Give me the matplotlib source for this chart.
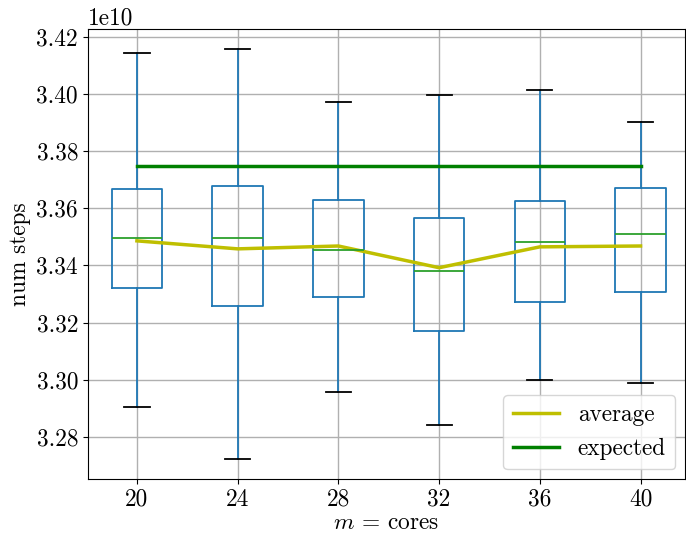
import matplotlib
matplotlib.use('Agg')
from matplotlib import pyplot as plt

# valores (unidade 1e10)
cores = [20, 24, 28, 32, 36, 40]
whis_lo = [3.2905, 3.2723, 3.2958, 3.2842, 3.2998, 3.2989]
q1 = [3.3321, 3.3258, 3.3290, 3.3171, 3.3273, 3.3307]
medians = [3.3497, 3.3497, 3.3454, 3.3381, 3.3483, 3.3510]
q3 = [3.3668, 3.3678, 3.3629, 3.3567, 3.3626, 3.3671]
whis_hi = [3.4144, 3.4158, 3.3972, 3.3997, 3.4015, 3.3903]
average = [3.3486, 3.3458, 3.3468, 3.3392, 3.3465, 3.3468]
expected = 3.3748

plt.rcParams['font.family'] = 'serif'
plt.rcParams['font.serif'] = ['cmr10']
plt.rcParams['mathtext.fontset'] = 'cm'
plt.rcParams['axes.unicode_minus'] = False
plt.rcParams['font.size'] = 16.8

fig = plt.figure(figsize=(6.86, 5.35), dpi=100)
ax = fig.add_axes([0.128, 0.105, 0.870, 0.841])

scale = 1e10
stats = []
for i in range(len(cores)):
    stats.append({'whislo': whis_lo[i] * scale, 'q1': q1[i] * scale,
                  'med': medians[i] * scale, 'q3': q3[i] * scale,
                  'whishi': whis_hi[i] * scale, 'fliers': []})

ax.bxp(stats, positions=cores, widths=2, manage_ticks=False,
       boxprops=dict(color='#1f77b4', linewidth=1.3),
       whiskerprops=dict(color='#1f77b4', linewidth=1.3),
       medianprops=dict(color='#2ca02c', linewidth=1.3),
       capprops=dict(color='black', linewidth=1.3))

ax.plot(cores, [a * scale for a in average], color='y', linewidth=2.5, label='average')
ax.plot(cores, [expected * scale] * len(cores), color='g', linewidth=2.5, label='expected')

ax.set_xticks(cores)
ax.set_xlim(18.05, 41.75)
ax.set_ylim(3.2653e10, 3.4228e10)
ax.set_yticks([3.28e10, 3.30e10, 3.32e10, 3.34e10, 3.36e10, 3.38e10, 3.40e10, 3.42e10])
ax.grid(True, color='#b0b0b0', linewidth=1.0)
ax.set_axisbelow(True)

ax.set_xlabel('$m$ = cores', labelpad=1)
ax.set_ylabel('num steps')
ax.legend(loc='lower right', borderaxespad=0.4)

fig.savefig('out.png', dpi=100)
